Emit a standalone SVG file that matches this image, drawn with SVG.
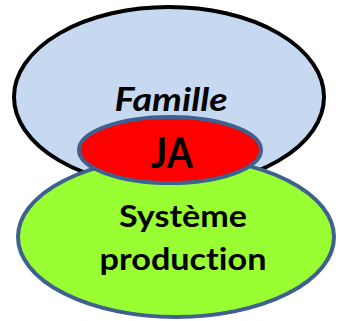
<svg xmlns="http://www.w3.org/2000/svg" width="340" height="321" viewBox="0 0 340 321">
<style>
.t{font-family:Lato,"Liberation Sans",Arial,sans-serif;font-weight:bold;fill:#000;text-anchor:middle;font-variant-ligatures:none;font-feature-settings:"liga" 0}
</style>
<rect width="340" height="321" fill="#fff"/>
<g id="famille">
<ellipse cx="169" cy="97" rx="155" ry="90" fill="#C6D9F1" stroke="#000" stroke-width="4"/>
<text class="t" x="171" y="111" font-size="33" font-style="italic" textLength="113" lengthAdjust="spacingAndGlyphs">Famille</text>
</g>
<g id="systeme">
<ellipse cx="176" cy="237" rx="158" ry="80" fill="#99FF33" stroke="#3E6190" stroke-width="4"/>
<text class="t" x="183" y="227" font-size="30" textLength="128" lengthAdjust="spacingAndGlyphs">Système</text>
<text class="t" x="183" y="270" font-size="30" textLength="167" lengthAdjust="spacingAndGlyphs">production</text>
</g>
<g id="ja">
<ellipse cx="170" cy="150" rx="91" ry="33" fill="#FF0000" stroke="#3E6190" stroke-width="4"/>
<text class="t" x="172" y="168" font-size="42" textLength="42" lengthAdjust="spacingAndGlyphs">JA</text>
</g>
<g id="connectors"/>
</svg>
